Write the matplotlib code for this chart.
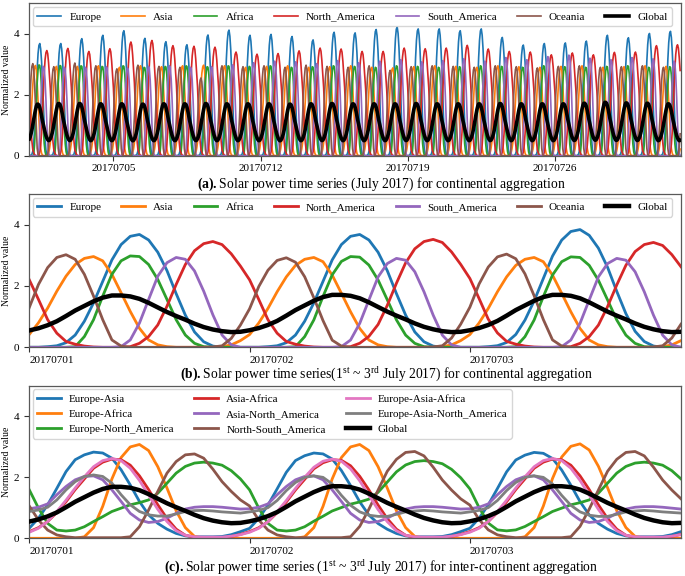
import numpy as np
import matplotlib
matplotlib.use("Agg")
import matplotlib.pyplot as plt

plt.rcParams['font.family'] = ['Liberation Serif', 'DejaVu Serif']
plt.rcParams['mathtext.fontset'] = 'custom'
plt.rcParams['mathtext.rm'] = 'Liberation Serif'
plt.rcParams['mathtext.bf'] = 'Liberation Serif:bold'

# ---------------- data (hourly, UTC) ----------------
continents = ["Europe", "Asia", "Africa", "North_America", "South_America", "Oceania", "Global"]

# one-day hourly profile (hours 0..23), day 1
europe_profile = [0.0, 0.0, 0.02, 0.05, 0.15, 0.4, 0.85, 1.45, 2.15, 2.85, 3.35, 3.62,
                  3.68, 3.5, 3.1, 2.5, 1.75, 1.05, 0.5, 0.18, 0.04, 0.0, 0.0, 0.0]
asia_profile = [0.42, 0.8, 1.28, 1.83, 2.32, 2.7, 2.9, 2.96, 2.82, 2.38, 1.78, 1.17,
                0.62, 0.24, 0.08, 0.02, 0.0, 0.0, 0.0, 0.0, 0.0, 0.02, 0.08, 0.22]
africa_profile = [0.0, 0.0, 0.0, 0.0, 0.0, 0.02, 0.35, 0.9, 1.67, 2.38, 2.82, 2.98,
                  2.96, 2.7, 2.21, 1.56, 0.9, 0.4, 0.13, 0.02, 0.0, 0.0, 0.0, 0.0]
north_america_profile = [2.2, 1.56, 0.9, 0.46, 0.19, 0.1, 0.04, 0.01, 0.0, 0.0, 0.0, 0.02,
                         0.13, 0.35, 0.73, 1.34, 2.05, 2.7, 3.15, 3.38, 3.45, 3.35, 3.05, 2.65]
south_america_profile = [0.0, 0.0, 0.0, 0.0, 0.0, 0.0, 0.0, 0.0, 0.0, 0.0, 0.02, 0.24,
                         0.79, 1.56, 2.32, 2.76, 2.93, 2.87, 2.49, 1.83, 1.06, 0.4, 0.08, 0.0]
oceania_profile = [1.3, 2.05, 2.6, 2.93, 3.02, 2.87, 2.38, 1.67, 0.9, 0.24, 0.04, 0.0,
                   0.0, 0.0, 0.0, 0.0, 0.0, 0.0, 0.0, 0.0, 0.01, 0.05, 0.3, 0.75]
global_profile = [0.55, 0.62, 0.72, 0.85, 1.02, 1.2, 1.35, 1.5, 1.62, 1.69, 1.69, 1.66,
                  1.58, 1.45, 1.3, 1.15, 1.02, 0.9, 0.77, 0.66, 0.58, 0.52, 0.49, 0.5]

# daily peak values for July 1..31
europe_peak = [3.68, 3.68, 3.84, 3.95, 4.1, 3.85, 3.74, 3.64, 3.96, 4.12,
               3.95, 3.98, 3.91, 3.8, 4.05, 4.03, 4.14, 4.22, 4.16, 4.16,
               4.1, 4.16, 3.88, 3.63, 3.68, 3.7, 3.76, 3.95, 3.87, 4.01, 4.08]
asia_peak = [2.96, 2.93, 2.93, 2.95, 2.9, 2.95, 2.92, 2.95, 2.97, 2.95,
             2.9, 2.93, 2.95, 2.9, 2.92, 2.95, 2.9, 2.88, 2.92, 2.95,
             2.93, 2.9, 2.95, 2.92, 2.9, 2.93, 2.95, 2.9, 2.92, 2.95, 2.93]
africa_peak = [2.98, 2.96, 2.95, 2.93, 2.95, 2.9, 2.93, 2.95, 2.92, 2.95,
               2.93, 2.95, 2.9, 2.92, 2.95, 2.93, 2.9, 2.95, 2.93, 2.9,
               2.92, 2.95, 2.93, 2.9, 2.95, 2.92, 2.9, 2.93, 2.95, 2.9, 2.92]
north_america_peak = [3.45, 3.52, 3.42, 3.51, 3.73, 3.78, 3.61, 3.59, 3.56, 3.4,
                      3.33, 3.35, 3.44, 3.53, 3.5, 3.42, 3.42, 3.53, 3.51, 3.53,
                      3.62, 3.5, 3.42, 3.4, 3.31, 3.37, 3.31, 3.39, 3.4, 3.61, 3.64]
south_america_peak = [2.93, 2.9, 2.9, 2.92, 2.88, 2.93, 2.95, 2.9, 2.92, 2.98,
                      3.05, 3.1, 3.08, 3.02, 3.12, 3.05, 3.1, 3.15, 3.08, 3.12,
                      3.18, 3.1, 3.22, 3.15, 3.25, 3.3, 3.2, 3.15, 3.22, 3.18, 3.1]
oceania_peak = [3.02, 2.92, 3.04, 2.95, 2.85, 2.97, 2.93, 2.9, 2.55, 2.95,
                2.92, 2.95, 2.9, 2.97, 2.93, 2.9, 2.95, 2.8, 2.92, 2.95,
                2.93, 2.9, 2.95, 2.92, 2.88, 2.93, 2.95, 2.9, 2.92, 2.95, 2.9]
global_peak = [1.69, 1.71, 1.71, 1.7, 1.7, 1.69, 1.7, 1.7, 1.71, 1.7,
               1.7, 1.7, 1.69, 1.7, 1.71, 1.7, 1.7, 1.7, 1.71, 1.7,
               1.7, 1.7, 1.71, 1.7, 1.7, 1.7, 1.72, 1.75, 1.73, 1.72, 1.7]

# inter-continent aggregation, one-day hourly profiles, day 1
inter_names = ["Europe-Asia", "Europe-Africa", "Europe-North_America",
               "Asia-Africa", "Asia-North_America", "North-South_America",
               "Europe-Asia-Africa", "Europe-Asia-North_America", "Global"]
eu_as_profile = [0.33, 0.66, 1.1, 1.64, 2.19, 2.58, 2.74, 2.83, 2.8, 2.63, 2.25, 1.75,
                 1.21, 0.77, 0.49, 0.3, 0.16, 0.08, 0.05, 0.05, 0.05, 0.06, 0.12, 0.22]
eu_af_profile = [0.0, 0.0, 0.0, 0.0, 0.0, 0.0, 0.05, 0.35, 1.05, 1.95, 2.65, 3.0,
                 3.08, 2.88, 2.35, 1.65, 0.9, 0.35, 0.06, 0.0, 0.0, 0.0, 0.0, 0.0]
eu_na_profile = [1.59, 0.99, 0.49, 0.27, 0.24, 0.27, 0.38, 0.55, 0.71, 0.88, 0.99, 1.1,
                 1.17, 1.26, 1.48, 1.81, 2.14, 2.36, 2.47, 2.5, 2.47, 2.4, 2.22, 1.95]
as_af_profile = [0.22, 0.35, 0.55, 0.85, 1.2, 1.6, 1.95, 2.3, 2.5, 2.6, 2.58, 2.4,
                 2.05, 1.6, 1.1, 0.65, 0.3, 0.1, 0.03, 0.02, 0.02, 0.02, 0.06, 0.13]
as_na_profile = [0.97, 1.02, 1.13, 1.43, 1.7, 1.92, 2.03, 2.05, 1.92, 1.59, 1.21, 0.82,
                 0.6, 0.52, 0.55, 0.66, 0.82, 0.96, 1.02, 1.04, 1.04, 1.02, 0.99, 0.96]
n_s_am_profile = [1.06, 0.6, 0.27, 0.11, 0.05, 0.02, 0.02, 0.02, 0.02, 0.02, 0.02, 0.05,
                  0.38, 0.93, 1.54, 2.14, 2.52, 2.74, 2.77, 2.63, 2.27, 1.86, 1.54, 1.26]
eu_as_af_profile = [0.2, 0.33, 0.55, 0.88, 1.25, 1.65, 2.02, 2.35, 2.55, 2.62, 2.55, 2.3,
                    1.9, 1.42, 0.95, 0.55, 0.25, 0.1, 0.05, 0.04, 0.04, 0.04, 0.07, 0.12]
eu_as_na_profile = [0.88, 0.93, 1.02, 1.26, 1.59, 1.86, 2.03, 2.08, 2.03, 1.81, 1.43, 1.1,
                    0.88, 0.77, 0.73, 0.73, 0.8, 0.88, 0.91, 0.93, 0.91, 0.88, 0.86, 0.84]
# peaks for July 1..3
eu_as_peak = [2.83, 2.8, 2.82]
eu_af_peak = [3.08, 3.08, 3.1]
eu_na_peak = [2.5, 2.55, 2.5]
as_af_peak = [2.6, 2.58, 2.6]
as_na_peak = [2.05, 2.05, 2.05]
n_s_am_peak = [2.77, 2.85, 2.85]
eu_as_af_peak = [2.62, 2.6, 2.62]
eu_as_na_peak = [2.08, 2.05, 2.05]

tick_labels_a = ["20170705", "20170712", "20170719", "20170726"]
tick_labels_bc = ["20170701", "20170702", "20170703"]


def build(profile, peaks):
    prof = np.asarray(profile, dtype=float)
    pk = np.asarray(peaks, dtype=float)
    n = len(pk)
    t = np.arange(24 * n)
    ph = int(np.argmax(prof))
    day = np.clip(np.floor((t - ph + 12) / 24).astype(int), 0, n - 1)
    return prof[t % 24] * pk[day] / prof.max()


cont_profiles = [europe_profile, asia_profile, africa_profile, north_america_profile,
                 south_america_profile, oceania_profile, global_profile]
cont_peaks = [europe_peak, asia_peak, africa_peak, north_america_peak,
              south_america_peak, oceania_peak, global_peak]
inter_profiles = [eu_as_profile, eu_af_profile, eu_na_profile, as_af_profile, as_na_profile,
                  n_s_am_profile, eu_as_af_profile, eu_as_na_profile, global_profile]
inter_peaks = [eu_as_peak, eu_af_peak, eu_na_peak, as_af_peak, as_na_peak,
               n_s_am_peak, eu_as_af_peak, eu_as_na_peak, global_peak[:3]]

colors = ['#1f77b4', '#ff7f0e', '#2ca02c', '#d62728', '#9467bd', '#8c564b', '#e377c2', '#7f7f7f']

fig = plt.figure(figsize=(6.85, 5.76), dpi=100)
W, H = 685.0, 576.0
LEG_FS = 8
AX_L, AX_R = 29.3, 681.0


def make_axes(top_px, bot_px):
    return fig.add_axes([AX_L / W, 1 - bot_px / H, (AX_R - AX_L) / W, (bot_px - top_px) / H])


def style(ax):
    for s in ax.spines.values():
        s.set_color('0.35')
        s.set_linewidth(0.9)
    ax.tick_params(axis='both', labelsize=8, direction='out', length=3.5, width=0.8,
                   color='0.2')
    ax.tick_params(axis='x', pad=2.5)
    ax.tick_params(axis='y', pad=4)
    ax.set_ylim(0, 5)
    ax.set_yticks([0, 2, 4])
    ax.set_ylabel("Normalized value", fontsize=7, labelpad=1.5)


def wide_legend(ax, top_px, bot_px):
    h = bot_px - top_px
    x0 = (33 - AX_L) / (AX_R - AX_L)
    w = (672 - 33) / (AX_R - AX_L)
    ytop = 1 - 4.0 / h
    ax.legend(loc='upper left', ncol=7, fontsize=LEG_FS, mode='expand',
              bbox_to_anchor=(x0, 0, w, ytop), borderaxespad=0,
              handlelength=2.15, handletextpad=0.72, columnspacing=1.5)


# ---- panel (a)
A_T, A_B = 3.3, 155.7
axa = make_axes(A_T, A_B)
for i, name in enumerate(continents):
    y = build(cont_profiles[i], cont_peaks[i])
    if name == "Global":
        axa.plot(np.arange(len(y)), y, color='black', lw=2.6, label=name, zorder=5)
    else:
        axa.plot(np.arange(len(y)), y, color=colors[i], lw=1.2, label=name)
axa.set_xlim(0, 744)
axa.set_xticks([96, 264, 432, 600])
axa.set_xticklabels(tick_labels_a)
style(axa)
wide_legend(axa, A_T, A_B)

# ---- panel (b)
B_T, B_B = 194, 347.3
axb = make_axes(B_T, B_B)
for i, name in enumerate(continents):
    y = build(cont_profiles[i], cont_peaks[i][:3])
    if name == "Global":
        axb.plot(np.arange(len(y)), y, color='black', lw=3.2, label=name, zorder=5)
    else:
        axb.plot(np.arange(len(y)), y, color=colors[i], lw=2.0, label=name)
axb.set_xlim(0, 71)
axb.set_xticks([0, 24, 48])
axb.set_xticklabels(tick_labels_bc, ha='left')
style(axb)
wide_legend(axb, B_T, B_B)

# ---- panel (c)
C_T, C_B = 386, 538.3
axc = make_axes(C_T, C_B)
for i, name in enumerate(inter_names):
    y = build(inter_profiles[i], inter_peaks[i])
    if name == "Global":
        axc.plot(np.arange(len(y)), y, color='black', lw=3.2, label=name, zorder=5)
    else:
        axc.plot(np.arange(len(y)), y, color=colors[i], lw=2.0, label=name)
axc.set_xlim(0, 71)
axc.set_xticks([0, 24, 48])
axc.set_xticklabels(tick_labels_bc, ha='left')
style(axc)
axc.legend(loc='upper left', ncol=3, fontsize=LEG_FS, borderaxespad=0.3, columnspacing=1.8,
           handlelength=2.15, handletextpad=0.72, labelspacing=0.5)

# ---- captions
fs = 9.8
cx = 381 / W
fig.text(cx, 1 - 184 / H, r"$\mathbf{(a).}$Solar power time series (July 2017) for continental aggregation",
         ha='center', va='center', fontsize=fs)
fig.text(cx + 5 / W, 1 - 374 / H, r"$\mathbf{(b).}$Solar power time series(1$^{\rm st}$ ~ 3$^{\rm rd}$ July 2017) for continental aggregation",
         ha='center', va='center', fontsize=fs)
fig.text(cx, 1 - 567 / H, r"$\mathbf{(c).}$Solar power time series (1$^{\rm st}$ ~ 3$^{\rm rd}$ July 2017) for inter-continent aggregation",
         ha='center', va='center', fontsize=fs)

fig.savefig("out.png", dpi=100)
